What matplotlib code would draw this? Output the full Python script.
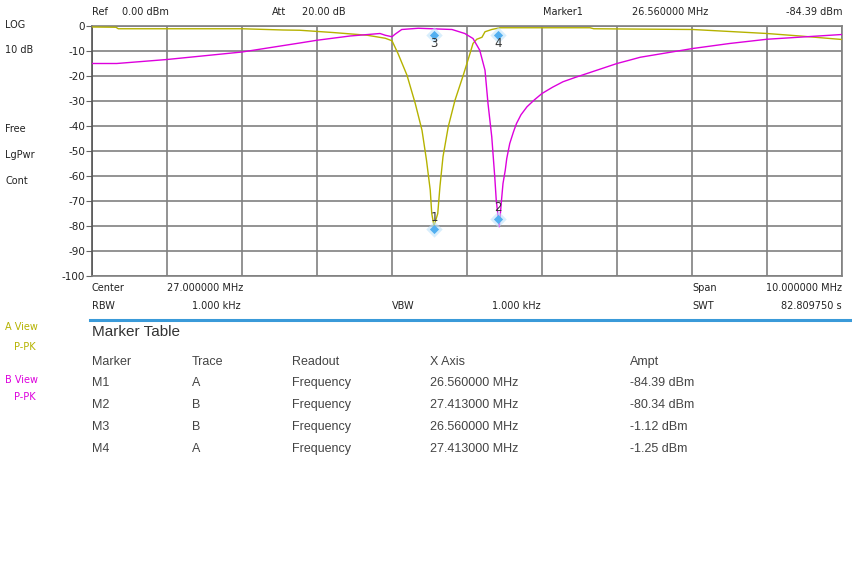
import matplotlib
matplotlib.use("Agg")
import matplotlib.pyplot as plt
from matplotlib.lines import Line2D

# trace A (olive/yellow) - frequency in MHz, level in dBm
freq_a = [22.0, 22.32, 22.35, 24.0, 24.55, 24.77, 25.21, 25.67, 25.91, 26.0, 26.08,
          26.20, 26.31, 26.40, 26.46, 26.51, 26.53, 26.56, 26.61, 26.64, 26.68, 26.75,
          26.84, 26.95, 27.04, 27.08, 27.13, 27.20, 27.24, 27.33, 27.44, 28.64, 28.69,
          30.01, 31.0, 31.44, 32.0]
level_a = [-0.4, -0.5, -1.1, -1.1, -1.6, -1.7, -2.6, -3.7, -4.9, -5.9, -11,
           -19.7, -31, -41.7, -53.7, -65.7, -75, -80, -75, -64, -52.3, -40.3,
           -29.7, -19.7, -11, -7, -5.3, -4.5, -2.3, -1.4, -0.7, -0.7, -1.1,
           -1.4, -3.0, -4.0, -5.4]

# trace B (magenta)
freq_b = [22.0, 22.33, 23.0, 24.0, 24.77, 25.0, 25.44, 25.84, 25.91, 26.0, 26.04, 26.13,
          26.35, 26.80, 26.97, 27.08, 27.17, 27.24, 27.28, 27.33, 27.37, 27.39, 27.43,
          27.46, 27.48, 27.51, 27.53, 27.57, 27.62, 27.66, 27.72, 27.80, 27.9, 28.0,
          28.14, 28.28, 28.44, 28.60, 28.8, 29.0, 29.15, 29.31, 29.65, 30.01, 30.5,
          31.0, 32.0]
level_b = [-15, -15, -13.4, -10.4, -6.8, -5.7, -4.0, -3.0, -3.7, -4.3, -3.3, -1.4,
           -0.9, -1.4, -3.0, -5, -9.7, -17.7, -31, -44.3, -60.3, -69.7, -80.3,
           -69.7, -63, -57.7, -53, -47, -42.3, -39, -35.5, -32.3, -29.5, -27,
           -24.5, -22.3, -20.6, -19, -17, -15, -13.8, -12.5, -10.8, -9, -7,
           -5.3, -3.4]

# markers as drawn on screen
marker_ids = ["1", "2", "3", "4"]
marker_freq = [26.56, 27.413, 26.56, 27.413]
marker_level = [-81.3, -77.3, -3.7, -3.7]

# marker table
table_header = ["Marker", "Trace", "Readout", "X Axis", "Ampt"]
table_rows = [
    ["M1", "A", "Frequency", "26.560000 MHz", "-84.39 dBm"],
    ["M2", "B", "Frequency", "27.413000 MHz", "-80.34 dBm"],
    ["M3", "B", "Frequency", "26.560000 MHz", "-1.12 dBm"],
    ["M4", "A", "Frequency", "27.413000 MHz", "-1.25 dBm"],
]

W, H = 852, 570
fig = plt.figure(figsize=(W / 100, H / 100), dpi=100)
fig.patch.set_facecolor("white")

ax = fig.add_axes([92 / W, (H - 276) / H, 750 / W, 250 / H])
ax.set_xlim(22, 32)
ax.set_ylim(-100, 0)
ax.set_xticks([22 + i for i in range(11)])
ax.set_yticks(list(range(-100, 1, 10)))
ax.set_xticklabels([])
ax.set_yticklabels([str(v) for v in range(-100, 1, 10)], fontsize=7.5, color="#222222")
ax.tick_params(axis="x", length=0)
ax.tick_params(axis="y", length=4, width=0.8, color="#666666", pad=1)
ax.grid(True, color="#808080", linewidth=1.2)
for side in ["top", "right", "bottom"]:
    ax.spines[side].set_color("#808080")
    ax.spines[side].set_linewidth(1.2)
ax.spines["left"].set_color("#555555")
ax.spines["left"].set_linewidth(1.2)

ax.plot(freq_a, level_a, color="#b5b200", linewidth=1.0, zorder=3)
ax.plot(freq_b, level_b, color="#dd00dd", linewidth=1.0, zorder=3)

for mid, f, lv in zip(marker_ids, marker_freq, marker_level):
    ax.scatter([f], [lv], marker="D", s=70, color="#bfe3fb", alpha=0.6, zorder=4, linewidths=0)
    ax.scatter([f], [lv], marker="D", s=22, color="#52aff0", zorder=5, linewidths=0)
    if lv > -50:
        ax.text(f, lv - 3.2, mid, ha="center", va="center", fontsize=8.5, color="#333333", zorder=6)
    else:
        ax.text(f, lv + 4.7, mid, ha="center", va="center", fontsize=8.5, color="#333333", zorder=6)


def px(x, y, s, **kw):
    kw.setdefault("fontsize", 7)
    kw.setdefault("color", "#222222")
    kw.setdefault("va", "center")
    fig.text(x / W, 1 - y / H, s, **kw)


# left status labels
px(5, 25, "LOG")
px(5, 50, "10 dB")
px(5, 129, "Free")
px(5, 155, "LgPwr")
px(5, 181, "Cont")
px(5, 327, "A View", color="#b5b200")
px(14, 347, "P-PK", color="#b5b200")
px(5, 380, "B View", color="#dd00dd")
px(14, 397, "P-PK", color="#dd00dd")

# header line
px(92, 12, "Ref")
px(122, 12, "0.00 dBm")
px(272, 12, "Att")
px(302, 12, "20.00 dB")
px(543, 12, "Marker1")
px(708, 12, "26.560000 MHz", ha="right")
px(842, 12, "-84.39 dBm", ha="right")

# footer lines
px(92, 288, "Center")
px(167, 288, "27.000000 MHz")
px(692, 288, "Span")
px(842, 288, "10.000000 MHz", ha="right")
px(92, 306, "RBW")
px(241, 306, "1.000 kHz", ha="right")
px(392, 306, "VBW")
px(541, 306, "1.000 kHz", ha="right")
px(692, 306, "SWT")
px(842, 306, "82.809750 s", ha="right")

fig.add_artist(Line2D([90 / W, 1.0], [1 - 320 / H, 1 - 320 / H], color="#3a9ad9",
                      linewidth=2.2, transform=fig.transFigure))

# marker table
tfont = ["Liberation Sans", "DejaVu Sans"]
px(92, 332, "Marker Table", fontsize=11, color="#333333", family=tfont)
col_x = [92, 192, 292, 430, 630]
for cx, h in zip(col_x, table_header):
    px(cx, 362, h, fontsize=9, color="#444444", family=tfont)
for i, row in enumerate(table_rows):
    for cx, v in zip(col_x, row):
        px(cx, 383 + 22 * i, v, fontsize=9, color="#444444", family=tfont)

fig.savefig("out.png", dpi=100)
